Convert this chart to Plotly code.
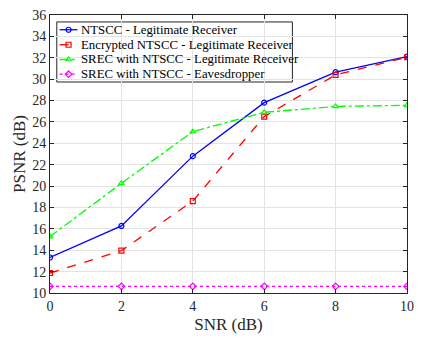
import plotly.graph_objects as go

snr = [0, 2, 4, 6, 8, 10]
ntscc = [13.32, 16.27, 22.8, 27.8, 30.65, 32.1]
enc_ntscc = [11.87, 13.96, 18.6, 26.5, 30.4, 32.05]
srec = [15.28, 20.26, 25.09, 26.9, 27.45, 27.55]
eaves = [10.62, 10.62, 10.62, 10.62, 10.62, 10.62]

names = ["NTSCC - Legitimate Receiver",
         "Encrypted NTSCC - Legitimate Receiver",
         "SREC with NTSCC - Legitimate Receiver",
         "SREC with NTSCC - Eavesdropper"]

FONT = "serif"

fig = go.Figure()
specs = [
    (ntscc, "#0000FF", "solid", "circle-open"),
    (enc_ntscc, "#FF0000", "dash", "square-open"),
    (srec, "#00FF00", "dashdot", "triangle-up-open"),
    (eaves, "#FF00FF", "dot", "diamond-open"),
]
for (vals, col, dash, sym), nm in zip(specs, names):
    fig.add_trace(go.Scatter(
        x=snr, y=vals, name=nm, mode="lines+markers", showlegend=False,
        line=dict(color=col, width=1.3, dash=dash),
        marker=dict(symbol=sym, size=5, color=col, line=dict(width=1.2, color=col)),
    ))

# --- custom compact legend (layout, in plot-area fractions) ---
LEG_X0, LEG_X1, LEG_Y0, LEG_Y1 = 0.019, 0.679, 0.759, 0.975
ROW_Y = [0.947, 0.893, 0.840, 0.787]
SAMPLE_X0, SAMPLE_X1, SAMPLE_XM, TEXT_X = 0.027, 0.077, 0.052, 0.080

fig.add_shape(type="rect", xref="paper", yref="paper",
              x0=LEG_X0, x1=LEG_X1, y0=LEG_Y0, y1=LEG_Y1,
              line=dict(color="#262626", width=1), fillcolor="white", layer="between")

for (vals, col, dash, sym), nm, ry in zip(specs, names, ROW_Y):
    fig.add_trace(go.Scatter(
        x=[SAMPLE_X0, SAMPLE_X1], y=[ry, ry], xaxis="x2", yaxis="y2",
        mode="lines", showlegend=False, hoverinfo="skip",
        line=dict(color=col, width=1.3, dash=dash)))
    fig.add_trace(go.Scatter(
        x=[SAMPLE_XM], y=[ry], xaxis="x2", yaxis="y2",
        mode="markers", showlegend=False, hoverinfo="skip",
        marker=dict(symbol=sym, size=5, color=col, line=dict(width=1.2, color=col))))
    fig.add_annotation(x=TEXT_X, y=ry, xref="paper", yref="paper",
                       text=nm, showarrow=False, xanchor="left", yanchor="middle",
                       font=dict(family=FONT, size=12.8, color="#000000"))

axis_common = dict(
    showline=True, linecolor="#262626", linewidth=1, mirror="ticks",
    ticks="inside", ticklen=4, tickcolor="#262626",
    showgrid=True, gridcolor="#E3E3E3", gridwidth=1,
    zeroline=False,
    tickfont=dict(family=FONT, size=14, color="#262626"),
)

fig.update_xaxes(range=[0, 10], dtick=2,
                 title=dict(text="SNR (dB)", font=dict(family=FONT, size=17, color="#262626"), standoff=5),
                 **axis_common)
fig.update_yaxes(range=[10, 36], dtick=2,
                 title=dict(text="PSNR (dB)", font=dict(family=FONT, size=17, color="#262626"), standoff=2),
                 **axis_common)

fig.update_layout(
    width=422, height=339,
    margin=dict(l=50, r=8, t=12, b=45),
    paper_bgcolor="white", plot_bgcolor="white",
    font=dict(family=FONT),
    showlegend=False,
    xaxis2=dict(overlaying="x", range=[0, 1], visible=False, fixedrange=True),
    yaxis2=dict(overlaying="y", range=[0, 1], visible=False, fixedrange=True),
)

fig.write_html("out.html", config={"displayModeBar": False},
               post_script="document.body.style.margin='0px';")
